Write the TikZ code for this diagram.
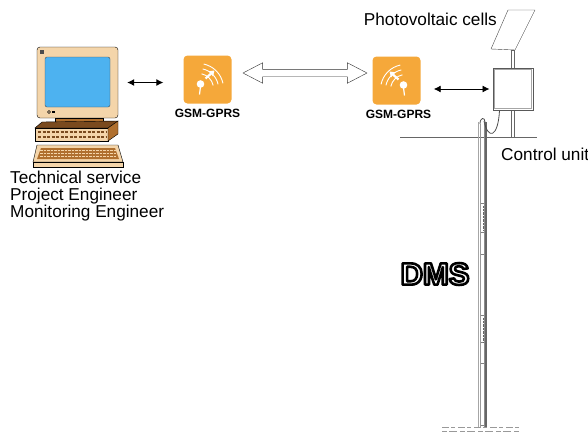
\documentclass[tikz,border=0pt]{standalone}
\usepackage{fontspec}
\setmainfont{Liberation Sans}
\usetikzlibrary{positioning,arrows.meta,shapes.arrows,calc}

\definecolor{gsmorange}{HTML}{F5A83A}
\definecolor{screenblue}{HTML}{4DB2F0}
\definecolor{casebeige}{HTML}{F4D5AA}
\definecolor{casebrown}{HTML}{B0702F}
\definecolor{darkbrown}{HTML}{7A4A1E}

% outlined lettering (white fill, black stroke)
\newcommand{\outlined}[1]{{\color{white}\special{pdf:code 0 0 0 RG 2.6 w 1 j 2 Tr}#1\special{pdf:code 0 Tr 0.4 w}}}

\tikzset{
  biarrow/.style={{Latex[length=7pt,width=7pt]}-{Latex[length=7pt,width=7pt]}, line width=0.9pt},
  gsmbox/.style={fill=gsmorange, rounded corners=4pt, minimum width=48pt, minimum height=48pt, inner sep=0pt},
  gsmlabel/.style={font=\fontsize{12}{14}\selectfont\bfseries, inner sep=0pt},
  caption/.style={font=\fontsize{17.2}{17}\selectfont, inner sep=0pt},
  dmsfont/.style={font=\fontsize{31}{32}\selectfont\bfseries, inner sep=0pt},
}

\begin{document}
\begin{tikzpicture}[x=1pt,y=-1pt]
\useasboundingbox (0,0) rectangle (588,434);

% workstation
\node[draw, fill=casebeige, rounded corners=3pt, minimum width=81pt, minimum height=71pt] (pc) at (77.5,82.5) {};
\draw[fill=screenblue, draw=black!70, rounded corners=2pt] (45,57) rectangle (110,107);
\fill[black!70] (40,50) rectangle (44,54);
\draw[line width=0.5pt] (49,112) circle (1.5);
\fill (52,111) rectangle (55,113);
\draw[fill=casebrown] (55,118) rectangle (103,122);
\draw[fill=darkbrown] (42,122) -- (118,121) -- (108,128) -- (35,128) -- cycle;
\draw[fill=casebeige] (35,128) rectangle (108,141);
\draw[fill=casebrown] (108,128) -- (118,121) -- (118,134) -- (108,141) -- cycle;
\foreach \y in {131.5,136.5}
  \draw[darkbrown, line width=2pt, dash pattern=on 3pt off 1.5pt] (38,\y) -- (106,\y);
\draw[fill=casebeige] (37,145) -- (118,145) -- (123,162) -- (33,162) -- cycle;
\draw[fill=casebeige] (33,162) rectangle (123,167);
\fill[casebrown] (41,148) -- (115,148) -- (119,159) -- (37,159) -- cycle;
\foreach \y in {150.5,153.5,156.5}
  \draw[casebeige, line width=1.2pt, dash pattern=on 2.5pt off 1pt] (40,\y) -- (117,\y);

\node[caption, align=left, anchor=base west] (staff) at (10,217) {Technical service\\Project Engineer\\Monitoring Engineer};

% modems
\node[gsmbox] (gsmA) at (207.5,79.5) {};
\node[gsmbox] (gsmB) at (396.5,80.5) {};
\node[gsmlabel, below=5pt of gsmA] (gsmAlabel) {GSM-GPRS};
\node[gsmlabel, below=5pt of gsmB, xshift=2pt] (gsmBlabel) {GSM-GPRS};
\foreach \n/\s in {gsmA/1, gsmB/-1}{
  \begin{scope}[shift={(\n.center)}, xscale=\s, white]
    \foreach \r in {15,20,25}
      \draw[line width=0.9pt] ($(-9,9)+(-12:\r)$) arc (-12:-78:\r);
    \draw[line width=2.2pt, -{Triangle[length=5pt,width=6.5pt]}] (-2,-1) -- (7,-9);
    \fill (-7,4.5) circle (3.8);
    \draw[line width=1.2pt] (-7,7) -- (-8,15);
  \end{scope}
}

% radio link
\node[double arrow, draw=black!80, fill=white, minimum height=124pt, inner sep=3.5pt,
      double arrow head extend=6.5pt, double arrow tip angle=55] (air) at (305,73) {};

% station
\draw[line width=3.5pt, black!60] (513,50) -- (513,137);
\draw[line width=1.8pt, white] (513,51) -- (513,136.5);
\draw[black!70, fill=white, line join=round] (491,49) -- (515,50) -- (535,10) -- (508,10) -- cycle;
\node[caption, anchor=base east] (pvlabel) at (497,25) {Photovoltaic cells};
\node[draw=black!65, fill=white, line width=1pt, minimum width=40pt, minimum height=42pt] (unit) at (513,89) {};
\draw[black!35] ($(unit.south west)+(2,-2)$) rectangle ($(unit.north east)+(-2,2)$);
\node[caption, anchor=base west] (unitlabel) at (501,160) {Control unit};

\draw[biarrow] ($(pc.east)+(9,0)$) -- ($(pc.east -| gsmA.west)+(-20,0)$);
\draw[biarrow] ($(gsmB.east |- unit.west)+(13,0)$) -- ($(unit.west)+(-3,0)$);

% ground and borehole
\draw[black!60, line width=0.8pt] (400,137) -- (537,137);
\draw[black!35, line width=1.4pt] (478.5,122) -- (478.5,428);
\draw[black!60, line width=1.4pt] (486,122) -- (486,428);
\draw[black!40, line width=0.5pt] (480.5,124) -- (480.5,428);
\draw[black!45, line width=0.5pt] (484,124) -- (484,428);
\foreach \y in {203,232,254,315,342,363,425}
  \draw[black!50, line width=0.5pt] (480.5,\y) -- (484,\y);
\foreach \y in {203,315}
  \draw[black!60, densely dotted] (483,\y+3) -- (483,\y+27);
\draw[black!70, line width=0.8pt] (480,124) .. controls (480,117) and (485,117) .. (485,122);
\draw[black!70, line width=0.8pt] ($(unit.south west)+(7,0)$) .. controls (498,138) and (488,140) .. (484,121);
\draw[black!40, dash pattern=on 7pt off 2pt on 4pt off 3pt] (442,427) -- (520,427);
\draw[black!40, dash pattern=on 5pt off 2pt on 8pt off 3pt] (442,431) -- (520,431);

% logo
\node[dmsfont] (dms) at (435,274) {\outlined{DMS}};
\end{tikzpicture}
\end{document}
